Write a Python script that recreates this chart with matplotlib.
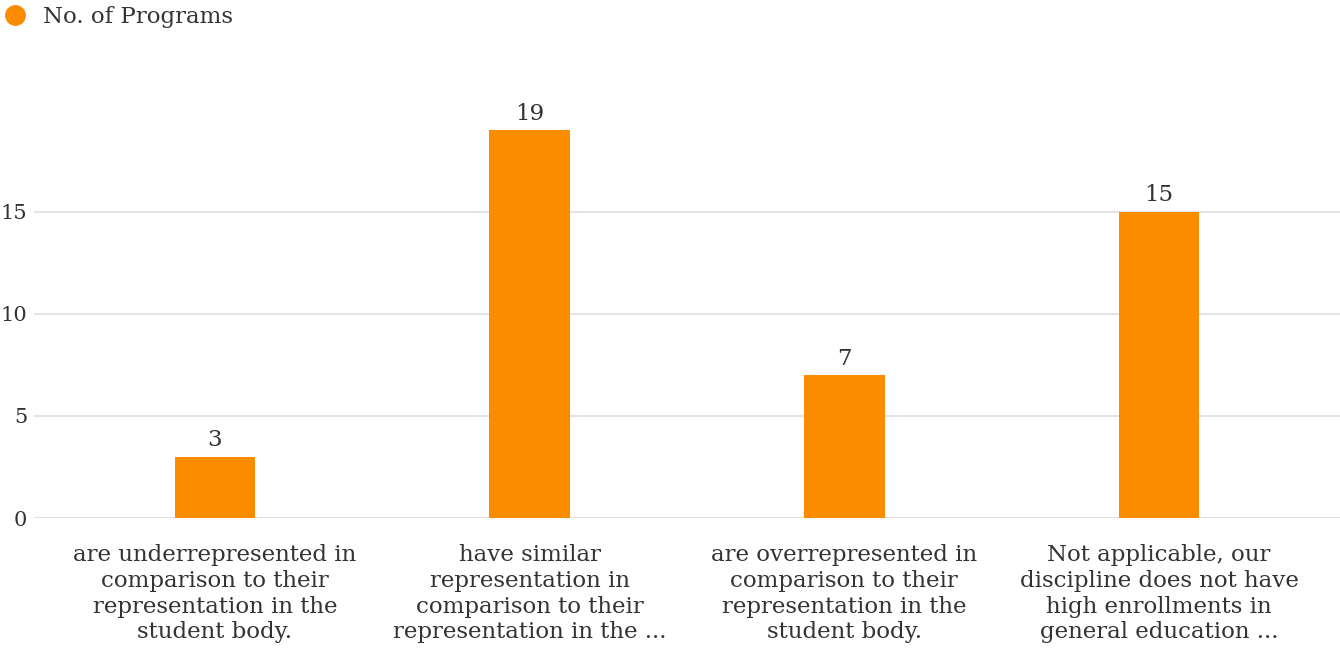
import matplotlib
matplotlib.use("Agg")
import matplotlib.pyplot as plt
from matplotlib.lines import Line2D

plt.rcParams['font.family'] = ['DejaVu Serif']

categories = [
    "are underrepresented in\ncomparison to their\nrepresentation in the\nstudent body.",
    "have similar\nrepresentation in\ncomparison to their\nrepresentation in the ...",
    "are overrepresented in\ncomparison to their\nrepresentation in the\nstudent body.",
    "Not applicable, our\ndiscipline does not have\nhigh enrollments in\ngeneral education ...",
]
programs = [3, 19, 7, 15]
yticks = [0, 5, 10, 15]

ORANGE = "#FB8C00"
TEXT = "#333333"
W, H = 1340, 651
FS = 16.5

fig = plt.figure(figsize=(W / 100, H / 100), dpi=100)
# axes: left edge at 34px, zero line at 518px, top at 60px
ax = fig.add_axes([34 / W, (H - 518) / H, (W - 34) / W, (518 - 60) / H])

x = list(range(len(categories)))
ax.bar(x, programs, width=0.257, color=ORANGE, zorder=3)
for xi, v in zip(x, programs):
    ax.annotate(str(v), (xi, v), xytext=(0, 4), textcoords="offset points",
                ha="center", va="bottom", fontsize=FS, color=TEXT)

ax.set_xlim(-0.575, 3.575)
ax.set_ylim(0, 22.45)
ax.set_yticks(yticks)
ax.set_yticklabels([str(t) for t in yticks], fontsize=15, color=TEXT)
ax.set_xticks(x)
ax.set_xticklabels(categories, fontsize=FS, color=TEXT, linespacing=1.21)
ax.tick_params(axis="both", length=0)
ax.tick_params(axis="x", pad=19)
ax.tick_params(axis="y", pad=5)
ax.grid(axis="y", color="#e3e3e3", linewidth=1.5, zorder=0)
for s in ax.spines.values():
    s.set_visible(False)

handle = Line2D([], [], marker="o", linestyle="none", markersize=14,
                markerfacecolor=ORANGE, markeredgecolor=ORANGE)
fig.legend([handle], ["No. of Programs"], loc="upper left",
           bbox_to_anchor=(0.0045, 0.994), frameon=False, fontsize=FS,
           handlelength=0.6, handletextpad=0.9, borderpad=0.1,
           borderaxespad=0.0, labelcolor=TEXT)

fig.savefig("out.png", dpi=100, facecolor="white")
